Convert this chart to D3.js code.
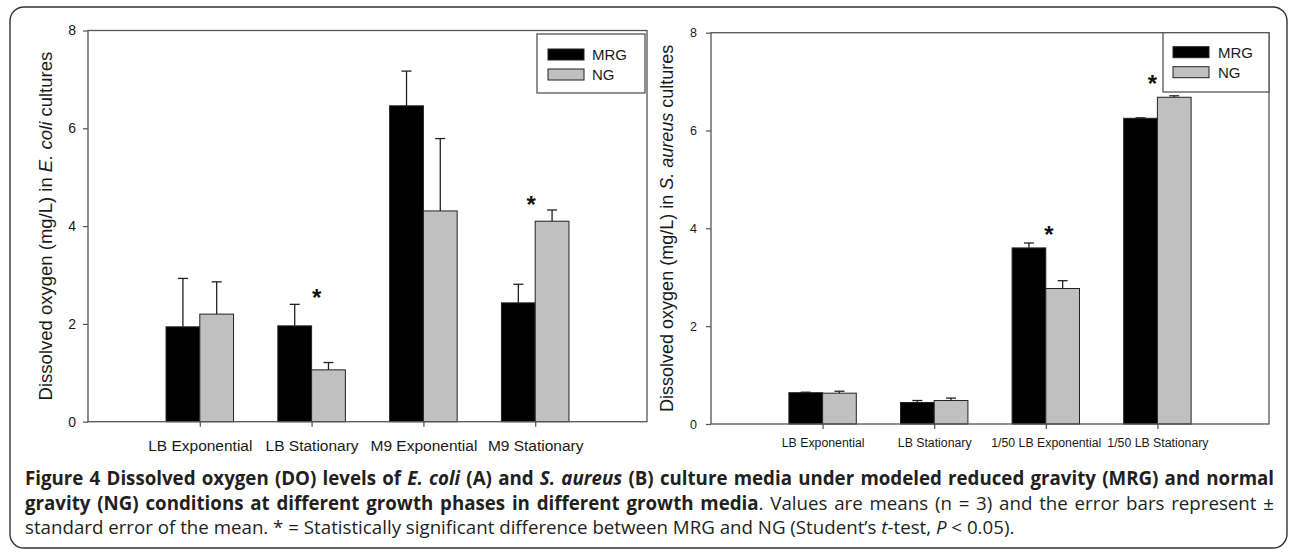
<!DOCTYPE html>
<html><head><meta charset="utf-8">
<script src="https://cdn.jsdelivr.net/npm/d3@7"></script>
<style>
html,body{margin:0;padding:0;background:#fff;}
svg{display:block;}
</style></head><body>
<svg id="fig" width="1290" height="553"></svg>
<script>
// ---------- data ----------
const categoriesA = ["LB Exponential", "LB Stationary", "M9 Exponential", "M9 Stationary"];
const mrgA    = [1.94, 1.96, 6.46, 2.43];
const mrgErrA = [0.99, 0.44, 0.71, 0.38];
const ngA     = [2.20, 1.06, 4.31, 4.10];
const ngErrA  = [0.66, 0.15, 1.48, 0.23];
const starCatsA = ["LB Stationary", "M9 Stationary"];
const starValsA = [2.66, 4.55];

const categoriesB = ["LB Exponential", "LB Stationary", "1/50 LB Exponential", "1/50 LB Stationary"];
const mrgB    = [0.64, 0.44, 3.60, 6.25];
const mrgErrB = [0.01, 0.04, 0.10, 0.01];
const ngB     = [0.63, 0.48, 2.77, 6.68];
const ngErrB  = [0.04, 0.05, 0.16, 0.03];
const starCatsB = ["1/50 LB Exponential", "1/50 LB Stationary"];
const starValsB = [3.98, 7.07];

const yTicks = [0, 2, 4, 6, 8];
const seriesNames = ["MRG", "NG"];
const seriesColors = ["#000000", "#c0c0c0"];

// ---------- drawing ----------
const svg = d3.select("#fig");
const FONT = "'Liberation Sans', Arial, sans-serif";
const AXIS = "#555";

svg.append("rect").attr("x", 10).attr("y", 7).attr("width", 1277).attr("height", 541)
  .attr("rx", 14).attr("fill", "none").attr("stroke", "#333").attr("stroke-width", 1.4);

function panel(cfg) {
  const g = svg.append("g");
  const x = d3.scalePoint().domain(cfg.cats).range([cfg.x0, cfg.x1]).padding(1);
  const y = d3.scaleLinear().domain([0, 8]).range([cfg.yb, cfg.yt]);
  const bw = x.step() * 0.302;

  // y axis
  const ya = g.append("g").attr("transform", `translate(${cfg.x0},0)`)
    .call(d3.axisLeft(y).tickValues(yTicks).tickSize(5).tickPadding(cfg.yPad).tickFormat(d3.format("d")));
  ya.select(".domain").remove();
  ya.selectAll("line").attr("stroke", AXIS).attr("stroke-width", 1.2);
  ya.selectAll("text").attr("font-family", FONT).attr("font-size", cfg.yFont).attr("fill", "#1a1a1a");

  // x axis
  const xa = g.append("g").attr("transform", `translate(0,${cfg.yb})`)
    .call(d3.axisBottom(x).tickSize(5).tickPadding(cfg.xPad));
  xa.select(".domain").remove();
  xa.selectAll("line").attr("stroke", AXIS).attr("stroke-width", 1.2);
  xa.selectAll("text").attr("font-family", FONT).attr("font-size", cfg.xFont).attr("fill", "#1a1a1a");

  // bars
  const series = [cfg.mrg, cfg.ng];
  const errs = [cfg.mrgErr, cfg.ngErr];
  series.forEach((vals, si) => {
    const data = cfg.cats.map((c, i) => ({c, v: vals[i], e: errs[si][i]}));
    const xs = d => x(d.c) + (si === 0 ? -bw : 0);
    g.append("g").selectAll("rect").data(data).join("rect")
      .attr("x", xs).attr("width", bw)
      .attr("y", d => y(d.v)).attr("height", d => y(0) - y(d.v))
      .attr("fill", seriesColors[si]).attr("stroke", "#222").attr("stroke-width", 1);
    const eg = g.append("g").attr("stroke", "#222").attr("stroke-width", 1.3);
    eg.selectAll("line.s").data(data).join("line").attr("class", "s")
      .attr("x1", d => xs(d) + bw / 2).attr("x2", d => xs(d) + bw / 2)
      .attr("y1", d => y(d.v)).attr("y2", d => y(d.v + d.e));
    eg.selectAll("line.c").data(data).join("line").attr("class", "c")
      .attr("x1", d => xs(d) + bw / 2 - 5).attr("x2", d => xs(d) + bw / 2 + 5)
      .attr("y1", d => y(d.v + d.e)).attr("y2", d => y(d.v + d.e));
  });

  // significance stars
  g.append("g").selectAll("text").data(cfg.starCats.map((c, i) => ({c, v: cfg.starVals[i], s: cfg.starShift[i]})))
    .join("text")
    .attr("x", d => x(d.c) + d.s).attr("y", d => y(d.v) + 14)
    .attr("text-anchor", "middle").attr("font-family", FONT).attr("font-size", 24)
    .attr("font-weight", "bold").attr("fill", "#111").text("*");

  // frame
  g.append("rect").attr("x", cfg.x0).attr("y", cfg.yt).attr("width", cfg.x1 - cfg.x0)
    .attr("height", cfg.yb - cfg.yt).attr("fill", "none").attr("stroke", AXIS).attr("stroke-width", 1.3);

  // legend
  const L = cfg.legend;
  g.append("rect").attr("x", L.x).attr("y", L.y).attr("width", L.w).attr("height", L.h)
    .attr("fill", "#fff").attr("stroke", AXIS).attr("stroke-width", 1.3);
  seriesNames.forEach((n, i) => {
    g.append("rect").attr("x", L.sx).attr("y", L.sy + i * L.dy).attr("width", 36).attr("height", 11)
      .attr("fill", seriesColors[i]).attr("stroke", "#222").attr("stroke-width", 1);
    g.append("text").attr("x", L.tx).attr("y", L.sy + 11 + i * L.dy)
      .attr("font-family", FONT).attr("font-size", 15).attr("fill", "#1a1a1a").text(n);
  });

  // y title
  const t = g.append("text")
    .attr("transform", `translate(${cfg.titleX},${(cfg.yt + cfg.yb) / 2}) rotate(-90)`)
    .attr("text-anchor", "middle").attr("font-family", FONT).attr("font-size", cfg.titleFont).attr("fill", "#1a1a1a");
  t.append("tspan").text("Dissolved oxygen (mg/L) in ");
  t.append("tspan").attr("font-style", "italic").text(cfg.organism);
  t.append("tspan").text(" cultures");
}

panel({
  cats: categoriesA, mrg: mrgA, mrgErr: mrgErrA, ng: ngA, ngErr: ngErrA,
  starCats: starCatsA, starVals: starValsA, starShift: [5, -4],
  x0: 88, x1: 647, yt: 30.5, yb: 421.7,
  yFont: 14, yPad: 7, xFont: 15.5, xPad: 13,
  titleFont: 18.5, titleX: 52, organism: "E. coli",
  legend: {x: 537, y: 34, w: 108, h: 59, sx: 548, sy: 49, dy: 20, tx: 592}
});
panel({
  cats: categoriesB, mrg: mrgB, mrgErr: mrgErrB, ng: ngB, ngErr: ngErrB,
  starCats: starCatsB, starVals: starValsB, starShift: [3, -5],
  x0: 711, x1: 1269, yt: 32.7, yb: 424,
  yFont: 12.5, yPad: 9, xFont: 12.3, xPad: 9,
  titleFont: 18, titleX: 673, organism: "S. aureus",
  legend: {x: 1163, y: 32.7, w: 106, h: 59.3, sx: 1173, sy: 46.7, dy: 20, tx: 1218}
});

// ---------- caption ----------
const CAP = "'Open Sans', 'Noto Sans', sans-serif";
const capX = 25;
const lines = [
  [["b", "Figure 4 Dissolved oxygen (DO) levels of "], ["bi", "E. coli"], ["b", " (A) and "], ["bi", "S. aureus"],
   ["b", " (B) culture media under modeled reduced gravity (MRG) and normal"]],
  [["b", "gravity (NG) conditions at different growth phases in different growth media"],
   ["r", ". Values are means (n = 3) and the error bars represent \u00b1"]],
  [["r", "standard error of the mean. * = Statistically significant difference between MRG and NG (Student\u2019s "],
   ["i", "t"], ["r", "-test, "], ["i", "P"], ["r", " < 0.05)."]]
];
const baselines = [485, 509.5, 533.5];
const capTexts = lines.map((parts, li) => {
  const t = svg.append("text").attr("x", capX).attr("y", baselines[li])
    .attr("font-family", CAP).attr("font-size", 16).attr("fill", "#231f20")
    .style("white-space", "pre");
  parts.forEach(([st, s]) => {
    const sp = t.append("tspan").text(s);
    if (st.includes("b")) sp.attr("font-weight", "bold");
    if (st.includes("i")) sp.attr("font-style", "italic");
  });
  return t;
});
// size font so last line spans its reference width
const w3 = capTexts[2].node().getComputedTextLength();
const fs = 16 * (990 / w3);
capTexts.forEach(t => t.attr("font-size", fs));
// justify first two lines
[0, 1].forEach(i => {
  const t = capTexts[i];
  const nat = t.node().getComputedTextLength();
  const nSp = (t.node().textContent.match(/ /g) || []).length;
  t.style("word-spacing", ((1249 - nat) / nSp) + "px");
});
</script>
</body></html>
